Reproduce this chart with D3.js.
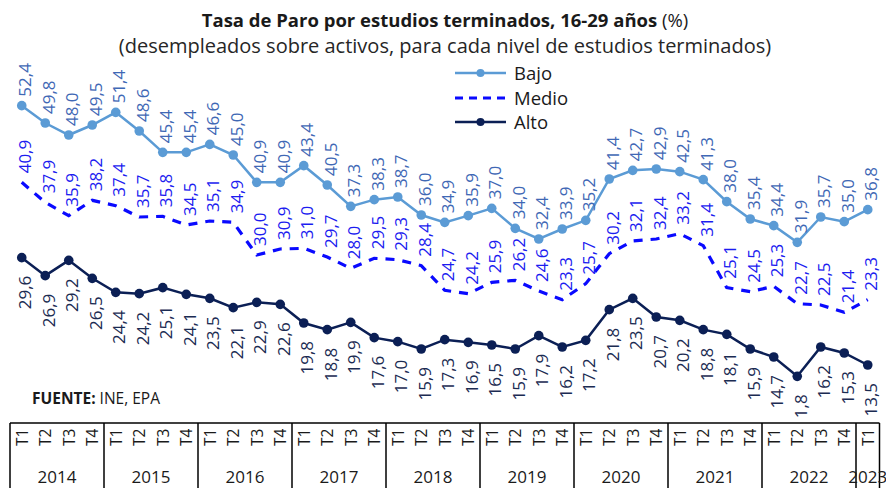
<!DOCTYPE html>
<html>
<head>
<meta charset="utf-8">
<script src="https://cdn.jsdelivr.net/npm/d3@7"></script>
<style>
    body { margin: 0; background: #fff; }
    svg { display: block; font-family: 'Open Sans', sans-serif; }
</style>
</head>
<body>
<svg id="chart" width="886" height="488"></svg>
<script>
// data, 2014 T1 .. 2023 T1
var years = ['2014', '2015', '2016', '2017', '2018', '2019', '2020', '2021', '2022', '2023'];
var quarters = ['T1', 'T2', 'T3', 'T4'];

var bajo = [52.4, 49.8, 48.0, 49.5, 51.4, 48.6, 45.4, 45.4, 46.6, 45.0, 40.9, 40.9, 43.4,
    40.5, 37.3, 38.3, 38.7, 36.0, 34.9, 35.9, 37.0, 34.0, 32.4, 33.9, 35.2, 41.4, 42.7,
    42.9, 42.5, 41.3, 38.0, 35.4, 34.4, 31.9, 35.7, 35.0, 36.8];
var medio = [40.9, 37.9, 35.9, 38.2, 37.4, 35.7, 35.8, 34.5, 35.1, 34.9, 30.0, 30.9, 31.0,
    29.7, 28.0, 29.5, 29.3, 28.4, 24.7, 24.2, 25.9, 26.2, 24.6, 23.3, 25.7, 30.2, 32.1,
    32.4, 33.2, 31.4, 25.1, 24.5, 25.3, 22.7, 22.5, 21.4, 23.3];
var alto = [29.6, 26.9, 29.2, 26.5, 24.4, 24.2, 25.1, 24.1, 23.5, 22.1, 22.9, 22.6, 19.8,
    18.8, 19.9, 17.6, 17.0, 15.9, 17.3, 16.9, 16.5, 15.9, 17.9, 16.2, 17.2, 21.8, 23.5,
    20.7, 20.2, 18.8, 18.1, 15.9, 14.7, 11.8, 16.2, 15.3, 13.5];

var periods = [];
years.forEach(function (yr) {
    quarters.forEach(function (q) {
        if (periods.length < bajo.length) periods.push({ year: yr, q: q });
    });
});

var series = [
    { name: 'Bajo', values: bajo, color: '#5b9bd5', labelColor: '#3f68b5', dash: null, marker: true, below: false },
    { name: 'Medio', values: medio, color: '#0a0aff', labelColor: '#1c1cf0', dash: '9,8', marker: false, below: false },
    { name: 'Alto', values: alto, color: '#0b1f55', labelColor: '#1b2b52', dash: null, marker: true, below: true }
];

var svg = d3.select('#chart');

var x = d3.scaleBand()
    .domain(d3.range(periods.length))
    .range([10, 879.5]);
var y = d3.scaleLinear()
    .domain([0, 60])
    .range([455, 55]);

function cx(i) { return x(i) + x.bandwidth() / 2; }

var fmt = function (v) { return v.toFixed(1).replace('.', ','); };

// titles
var title = svg.append('text')
    .attr('x', 445).attr('y', 27)
    .attr('text-anchor', 'middle')
    .attr('font-size', 18.5)
    .attr('fill', '#1a1a1a');
title.append('tspan').attr('font-weight', 'bold').text('Tasa de Paro por estudios terminados, 16-29 años ');
title.append('tspan').text('(%)');

svg.append('text')
    .attr('x', 445).attr('y', 53)
    .attr('text-anchor', 'middle')
    .attr('font-size', 20)
    .attr('fill', '#262626')
    .text('(desempleados sobre activos, para cada nivel de estudios terminados)');

// plot area, clipped at the top of the axis box
svg.append('clipPath').attr('id', 'plotclip')
    .append('rect').attr('x', 0).attr('y', 0).attr('width', 886).attr('height', 422);

var plot = svg.append('g').attr('clip-path', 'url(#plotclip)');

var line = d3.line()
    .x(function (d, i) { return cx(i); })
    .y(function (d) { return y(d); });

series.forEach(function (s) {
    var g = plot.append('g').attr('class', 'series');

    g.append('path')
        .attr('d', line(s.values))
        .attr('fill', 'none')
        .attr('stroke', s.color)
        .attr('stroke-width', s.dash ? 3.2 : 2.5)
        .attr('stroke-dasharray', s.dash);

    if (s.marker) {
        g.selectAll('circle')
            .data(s.values)
            .enter().append('circle')
            .attr('cx', function (d, i) { return cx(i); })
            .attr('cy', function (d) { return y(d); })
            .attr('r', 4.8)
            .attr('fill', s.color);
    }

    g.selectAll('text')
        .data(s.values)
        .enter().append('text')
        .attr('transform', function (d, i) {
            var ly = s.below ? y(d) + 18 : y(d) - 9;
            return 'translate(' + (cx(i) + 3) + ',' + ly + ') rotate(-90)';
        })
        .attr('text-anchor', s.below ? 'end' : 'start')
        .attr('dominant-baseline', 'central')
        .attr('font-size', 17)
        .attr('fill', s.labelColor)
        .text(fmt);
});

// legend
var legend = svg.append('g').attr('transform', 'translate(455,0)');
var legendY = [73, 98, 122];
series.forEach(function (s, k) {
    var row = legend.append('g').attr('transform', 'translate(0,' + legendY[k] + ')');
    row.append('line')
        .attr('x1', 0).attr('x2', 51)
        .attr('stroke', s.color)
        .attr('stroke-width', s.dash ? 3.2 : 2.5)
        .attr('stroke-dasharray', s.dash ? '8,6' : null);
    if (s.marker) {
        row.append('circle').attr('cx', 25.5).attr('r', 4).attr('fill', s.color);
    }
    row.append('text')
        .attr('x', 59).attr('y', 6.5)
        .attr('font-size', 18.5)
        .attr('fill', '#1a1a1a')
        .text(s.name);
});

// source
var src = svg.append('text')
    .attr('x', 32).attr('y', 404)
    .attr('font-size', 15.5)
    .attr('fill', '#1a1a1a');
src.append('tspan').attr('font-weight', 'bold').text('FUENTE: ');
src.append('tspan').text('INE, EPA');

// category axis drawn as a box of years and quarters
var axis = svg.append('g').attr('class', 'cat-axis');
var boxTop = 423;

axis.append('line')
    .attr('x1', x(0)).attr('x2', x(periods.length - 1) + x.bandwidth())
    .attr('y1', boxTop).attr('y2', boxTop)
    .attr('stroke', '#000').attr('stroke-width', 1.5);

var yearStarts = [];
periods.forEach(function (p, i) {
    if (i === 0 || periods[i - 1].year !== p.year) yearStarts.push(i);
});

axis.selectAll('line.sep')
    .data(yearStarts.concat([periods.length]))
    .enter().append('line')
    .attr('class', 'sep')
    .attr('x1', function (i) { return i < periods.length ? x(i) : x(i - 1) + x.bandwidth(); })
    .attr('x2', function (i) { return i < periods.length ? x(i) : x(i - 1) + x.bandwidth(); })
    .attr('y1', boxTop).attr('y2', 488)
    .attr('stroke', '#000').attr('stroke-width', 1.5);

axis.selectAll('text.q')
    .data(periods)
    .enter().append('text')
    .attr('class', 'q')
    .attr('transform', function (d, i) {
        return 'translate(' + cx(i) + ',' + 446 + ') rotate(-90)';
    })
    .attr('dominant-baseline', 'central')
    .attr('font-size', 15.5)
    .attr('fill', '#1a1a1a')
    .text(function (d) { return d.q; });

axis.selectAll('text.yr')
    .data(years)
    .enter().append('text')
    .attr('class', 'yr')
    .attr('x', function (yr) {
        var idx = periods.filter(function (p) { return p.year === yr; })
            .map(function (p) { return periods.indexOf(p); });
        return (x(idx[0]) + x(idx[idx.length - 1]) + x.bandwidth()) / 2;
    })
    .attr('y', 483)
    .attr('text-anchor', 'middle')
    .attr('font-size', 17)
    .attr('fill', '#1a1a1a')
    .text(function (yr) { return yr; });
</script>
</body>
</html>
